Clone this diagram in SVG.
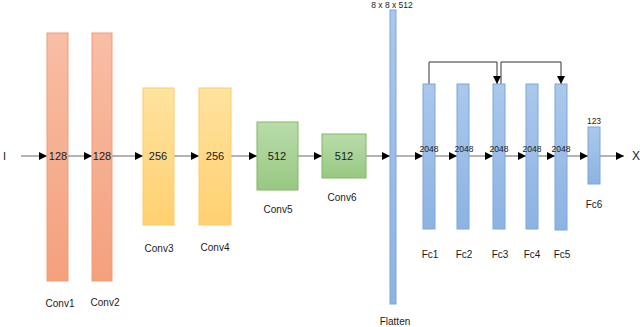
<svg xmlns="http://www.w3.org/2000/svg" width="640" height="327" viewBox="0 0 640 327">
<defs>
<linearGradient id="gRed" x1="0" y1="0" x2="0" y2="1"><stop offset="0" stop-color="#f8bea5"/><stop offset="1" stop-color="#f4a07d"/></linearGradient>
<linearGradient id="gYel" x1="0" y1="0" x2="0" y2="1"><stop offset="0" stop-color="#ffe39f"/><stop offset="1" stop-color="#ffd071"/></linearGradient>
<linearGradient id="gGrn" x1="0" y1="0" x2="0" y2="1"><stop offset="0" stop-color="#b9dcaa"/><stop offset="1" stop-color="#98c882"/></linearGradient>
<linearGradient id="gBlu" x1="0" y1="0" x2="0" y2="1"><stop offset="0" stop-color="#abc8ec"/><stop offset="1" stop-color="#8cb3e2"/></linearGradient>
<marker id="ah" viewBox="0 0 8 8" refX="8" refY="4" markerWidth="8" markerHeight="8" markerUnits="userSpaceOnUse" orient="auto"><path d="M0,0 L8,4 L0,8 Z" fill="#000"/></marker>
</defs>
<style>
.red{fill:url(#gRed);stroke:#f29b74;stroke-width:1}
.yel{fill:url(#gYel);stroke:#ffcc66;stroke-width:1}
.grn{fill:url(#gGrn);stroke:#82b765;stroke-width:1}
.blu{fill:url(#gBlu);stroke:#7ca6dc;stroke-width:1}
text{font-family:"Liberation Sans",Arial,sans-serif;fill:#1a1a1a}
.num{font-size:11px;text-anchor:middle}
.sm{font-size:8.5px;text-anchor:middle}
.lbl{font-size:10px;text-anchor:middle}
.ln{stroke:#808080;stroke-width:1.2;fill:none;marker-end:url(#ah)}
.sk{stroke:#333;stroke-width:1;fill:none;marker-end:url(#ah)}
</style>
<rect width="640" height="327" fill="#fff"/>
<g id="connectors">
<line class="ln" x1="21" y1="156" x2="47" y2="156"/>
<line class="ln" x1="68" y1="156" x2="92" y2="156"/>
<line class="ln" x1="112" y1="156" x2="143" y2="156"/>
<line class="ln" x1="174" y1="156" x2="199" y2="156"/>
<line class="ln" x1="231" y1="156" x2="257" y2="156"/>
<line class="ln" x1="298" y1="156" x2="322" y2="156"/>
<line class="ln" x1="366" y1="156" x2="390" y2="156"/>
<line class="ln" x1="396" y1="156" x2="423" y2="156"/>
<line class="ln" x1="435" y1="156" x2="457" y2="156"/>
<line class="ln" x1="469" y1="156" x2="493" y2="156"/>
<line class="ln" x1="505" y1="156" x2="526" y2="156"/>
<line class="ln" x1="538" y1="156" x2="555" y2="156"/>
<line class="ln" x1="567" y1="156" x2="588" y2="156"/>
<line class="ln" x1="600" y1="156" x2="624" y2="156"/>
<polyline class="sk" points="429,84 429,62 497,62 497,84"/>
<polyline class="sk" points="501,84 501,62 561,62 561,84"/>
</g>
<g id="input"><text x="3" y="160" font-size="11px">I</text></g>
<g id="conv1"><rect class="red" x="47" y="33" width="21" height="248"/><text class="num" x="58" y="160">128</text><text class="lbl" x="60" y="307">Conv1</text></g>
<g id="conv2"><rect class="red" x="92" y="33" width="20" height="248"/><text class="num" x="102" y="160">128</text><text class="lbl" x="105" y="306">Conv2</text></g>
<g id="conv3"><rect class="yel" x="143" y="88" width="31" height="137"/><text class="num" x="158" y="160">256</text><text class="lbl" x="159" y="252">Conv3</text></g>
<g id="conv4"><rect class="yel" x="199" y="88" width="32" height="137"/><text class="num" x="215" y="160">256</text><text class="lbl" x="215" y="251">Conv4</text></g>
<g id="conv5"><rect class="grn" x="257" y="122" width="41" height="68"/><text class="num" x="277" y="160">512</text><text class="lbl" x="278" y="213">Conv5</text></g>
<g id="conv6"><rect class="grn" x="322" y="134" width="44" height="44"/><text class="num" x="344" y="160">512</text><text class="lbl" x="342" y="201">Conv6</text></g>
<g id="flatten"><rect class="blu" x="390" y="10" width="6" height="294"/><text class="sm" x="392" y="8">8 x 8 x 512</text><text class="lbl" x="395" y="325">Flatten</text></g>
<g id="fc1"><rect class="blu" x="423" y="84" width="12" height="145"/><text class="sm" x="429" y="152">2048</text><text class="lbl" x="430" y="258">Fc1</text></g>
<g id="fc2"><rect class="blu" x="457" y="84" width="12" height="145"/><text class="sm" x="464" y="152">2048</text><text class="lbl" x="464" y="258">Fc2</text></g>
<g id="fc3"><rect class="blu" x="493" y="84" width="12" height="145"/><text class="sm" x="499" y="152">2048</text><text class="lbl" x="500" y="258">Fc3</text></g>
<g id="fc4"><rect class="blu" x="526" y="84" width="12" height="145"/><text class="sm" x="532" y="152">2048</text><text class="lbl" x="532" y="258">Fc4</text></g>
<g id="fc5"><rect class="blu" x="555" y="84" width="12" height="146"/><text class="sm" x="561" y="152">2048</text><text class="lbl" x="562" y="258">Fc5</text></g>
<g id="fc6"><rect class="blu" x="588" y="127" width="12" height="57"/><text class="sm" x="594" y="124">123</text><text class="lbl" x="594" y="208">Fc6</text></g>
<g id="output"><text x="632" y="160" font-size="12px">X</text></g>
</svg>
